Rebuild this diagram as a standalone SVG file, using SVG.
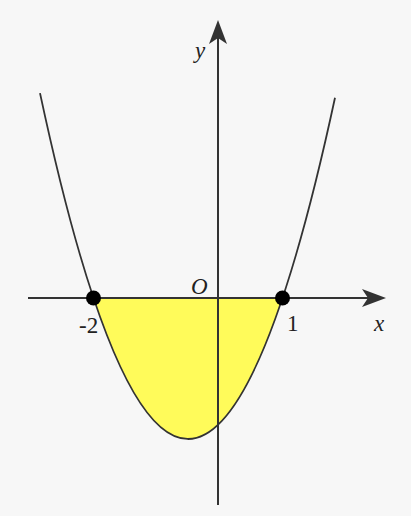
<svg xmlns="http://www.w3.org/2000/svg" width="411" height="516" viewBox="0 0 411 516">
<style>
.ax{stroke:#333;stroke-width:2;fill:none}
.cv{stroke:#333;stroke-width:1.8;fill:none}
.lbl{font-family:"Liberation Serif",serif;font-size:23px;fill:#222}
.it{font-style:italic}
</style>
<rect width="411" height="516" fill="#f7f7f7"/>
<g id="region">
<path d="M93.5,298 Q188,580 282.5,298 Z" fill="#fffb5a"/>
</g>
<g id="connectors">
<line class="ax" x1="28" y1="298" x2="376" y2="298"/>
<path d="M386,298 L362,289 L368,298 L362,307 Z" fill="#333"/>
<line class="ax" x1="218" y1="505" x2="218" y2="30"/>
<path d="M218,20 L209,44 L218,38 L227,44 Z" fill="#333"/>
</g>
<g id="curve">
<path class="cv" d="M40,93.1 Q187.5,782.5 335,97.8"/>
</g>
<g id="points">
<circle cx="93.5" cy="298" r="7.5" fill="#000"/>
<circle cx="282.5" cy="298" r="7.5" fill="#000"/>
</g>
<g id="labels">
<text class="lbl it" x="195" y="58">y</text>
<text class="lbl it" x="191" y="294">O</text>
<text class="lbl it" x="374" y="331">x</text>
<text class="lbl" x="79" y="333">-2</text>
<text class="lbl" x="287" y="331">1</text>
</g>
</svg>
